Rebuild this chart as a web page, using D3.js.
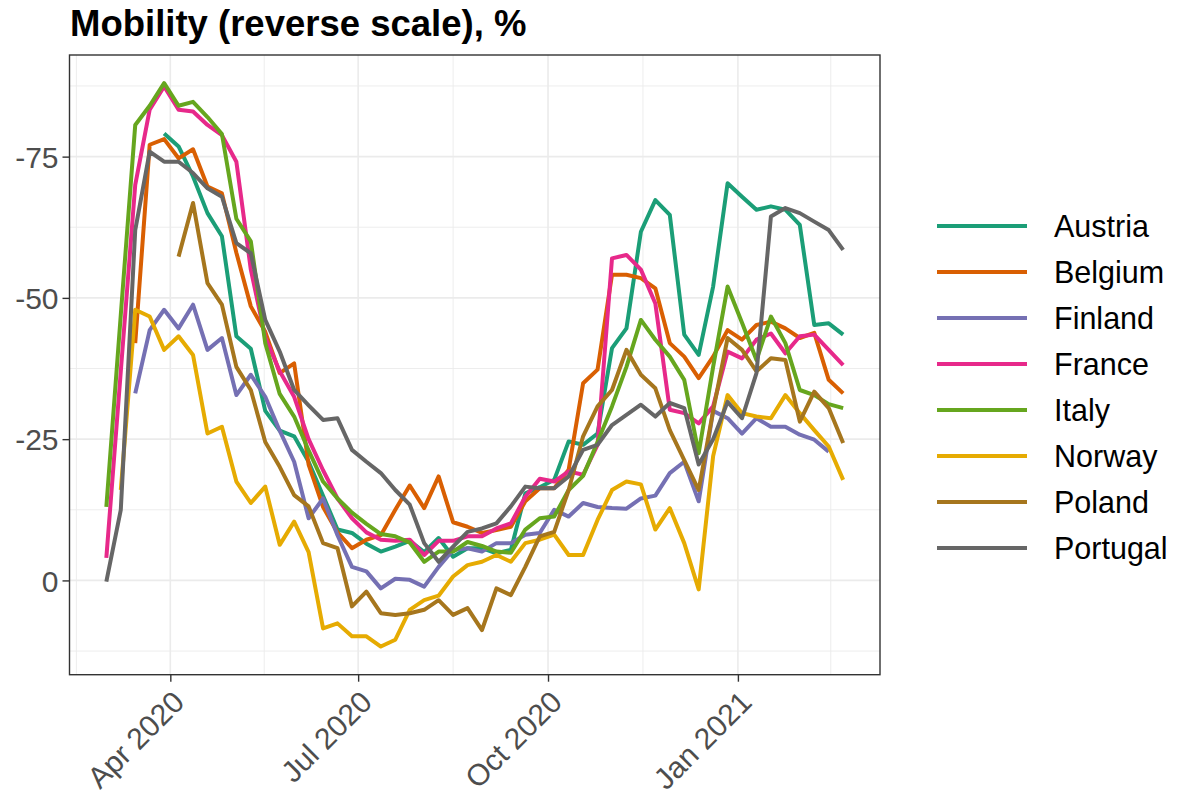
<!DOCTYPE html>
<html lang="en">
<head>
<meta charset="UTF-8">
<title>Mobility</title>
<style>
    body{
        margin:0;
        background:#fff;
        font-family:"Liberation Sans", Arial, Helvetica, sans-serif;
    }
    .grid-major{ stroke:#ebebeb; stroke-width:1.6; }
    .grid-minor{ stroke:#ebebeb; stroke-width:0.9; }
    .tick-label{ fill:#4d4d4d; font-size:30px; }
    .legend-label{ fill:#000; font-size:30.5px; }
    .title{ font-size:36.5px; font-weight:bold; fill:#000; }
</style>
<script src="https://d3js.org/d3.v7.min.js"></script>
</head>
<body>
<script>
    // weekly series, first week starting 1 Mar 2020 (52 weeks)
    var startDate = "2020-03-01";
    var countries = ["Austria","Belgium","Finland","France","Italy","Norway","Poland","Portugal"];
    var colors = ["#1B9E77","#D95F02","#7570B3","#E7298A","#66A61E","#E6AB02","#A6761D","#666666"];

    var austria = [null,null,null,null,-79.1,-76.8,-71.5,-65,-60.9,-43.2,-41,-30,-26.5,-25.5,-21,-15,-9,-8.4,-6.5,-5.1,
        -6,-7,-5,-7.5,-4.2,-5.7,-5.7,-4.8,-5.4,-15.4,-16.5,-17.8,-24.6,-24,-26,-41.1,-44.6,-61.7,-67.3,-64.7,
        -43.5,-39.9,-52,-70.3,-67.9,-65.6,-66.2,-65.6,-62.9,-45.2,-45.5,-43.5];
    var belgium = [null,null,-42,-77.1,-78.1,-74.7,-76.3,-69.7,-68.5,-58,-48.5,-44,-36.7,-38.4,-20.5,-13,-8.5,-5.7,-7.2,-8,
        -12.5,-16.8,-12.8,-18.4,-10.3,-9.5,-8.4,-8.9,-9.5,-14,-16.3,-16.3,-19.6,-34.9,-37.3,-54.1,-54.1,-53.5,-51.7,-42,
        -39.6,-35.8,-39.6,-44.3,-42.6,-45.2,-45.8,-44.6,-42.9,-43.8,-35.5,-33.1];
    var finland = [null,null,-33.1,-44.3,-47.9,-44.6,-48.8,-40.8,-42.9,-32.8,-36.4,-32.5,-26.5,-21,-11,-14.5,-8,-2.4,-1.6,1.4,
        -0.3,-0.1,1.1,-2.4,-5.4,-5.7,-5.1,-6.6,-6.6,-8.1,-8.4,-12.5,-11.3,-13.7,-13,-12.8,-12.7,-14.5,-15,-19,
        -21,-14,-30,-28.7,-26,-28.7,-27.2,-27.2,-25.8,-24.9,-22.8,null];
    var france = [-4,-37,-70,-83.3,-87.4,-83.3,-83,-80.6,-78.8,-74.1,-55,-43,-37,-32.5,-25,-19.5,-14.5,-11,-8.5,-7.2,
        -7,-7.2,-4.5,-7,-7,-7.8,-7.8,-9.2,-10.1,-14.8,-18,-17.5,-19.3,-18.7,-24,-57,-57.6,-55,-49,-30.2,
        -29.6,-27.8,-30.8,-40.5,-39.3,-42.6,-43.7,-40.2,-43.2,-43.5,-40.8,-38.1];
    var italy = [-13,-47,-80.6,-84,-88,-84,-84.7,-82,-79,-64,-60,-42,-33,-29,-23,-17.5,-14.5,-12,-10,-8.2,
        -7.8,-6.7,-3.3,-5.1,-5.1,-6.8,-6.1,-5.1,-4.9,-9,-11,-11.3,-16,-18.5,-24.5,-30.8,-37.8,-46.1,-42.6,-39.6,
        -35.5,-22.5,-37.8,-52,-45.6,-39,-46.7,-42,-33.7,-32.8,-31.2,-30.5];
    var norway = [null,-16,-47.9,-46.7,-40.8,-43.2,-39.9,-26,-27.2,-17.5,-13.7,-16.6,-6.3,-10.4,-5,8.5,7.6,9.9,9.9,11.7,
        10.5,5.2,3.5,2.7,-0.7,-2.7,-3.3,-4.5,-3.3,-6.6,-7.2,-8.1,-4.5,-4.5,-10.7,-16,-17.5,-17,-9,-12.8,
        -6.6,1.6,-22,-32.8,-29.6,-29,-28.7,-32.8,-29.6,-26.6,-23.7,-17.8];
    var poland = [null,null,null,null,null,-57.3,-66.8,-52.6,-48.8,-37.8,-33.7,-24.5,-20.1,-15.1,-13.1,-6.6,-5.7,4.6,2,5.8,
        6.1,5.8,5.2,3.5,6.1,4.9,8.8,1.4,2.6,-2.4,-7.8,-8.6,-16,-25.5,-30.8,-33.7,-40.8,-36.4,-34,-26.6,
        -21.3,-16,-30,-42.9,-40.8,-37,-39.3,-39,-28.1,-33.4,-30.5,-24.3];
    var portugal = [0.2,-12.5,-62,-75.9,-74.1,-74.1,-72.1,-69.4,-67.9,-59.7,-57.9,-46.1,-40.5,-33.7,-31,-28.4,-28.7,-23.1,-21,-19,
        -16,-13.4,-6.6,-3.3,-6,-8.6,-9.2,-10.1,-13.1,-16.6,-16.3,-16.3,-18.4,-23.1,-24,-27.5,-29.3,-31.1,-29,-31.4,
        -30.5,-20.5,-25,-31.6,-28.7,-36.7,-64.4,-65.9,-65,-63.5,-62,-58.5];

    var seriesValues = [austria,belgium,finland,france,italy,norway,poland,portugal];
    var yTicks = [-75,-50,-25,0];
    var yMinor = [-87.5,-62.5,-37.5,-12.5,12.5];
    var xTickDates = ["2020-04-01","2020-07-01","2020-10-01","2021-01-01"];
    var xTickLabels = ["Apr 2020","Jul 2020","Oct 2020","Jan 2021"];

    var W = 1178, H = 801;
    var panelL = 69.5, panelR = 880, panelT = 55, panelB = 674.7;

    var parse = d3.utcParse("%Y-%m-%d");
    var d0 = parse(startDate);
    var dates = d3.range(austria.length).map(function(i){ return d3.utcDay.offset(d0, 7*i); });

    // ggplot style 5% expansion
    var tExt = d3.extent(dates);
    var tPad = (tExt[1] - tExt[0]) * 0.05;
    var x = d3.scaleUtc()
        .domain([new Date(+tExt[0] - tPad), new Date(+tExt[1] + tPad)])
        .range([panelL, panelR]);

    var allVals = d3.merge(seriesValues).filter(function(v){ return v != null; });
    var vExt = d3.extent(allVals);
    var vPad = (vExt[1] - vExt[0]) * 0.05;
    // reverse scale: lowest value at top
    var y = d3.scaleLinear()
        .domain([vExt[0] - vPad, vExt[1] + vPad])
        .range([panelT, panelB]);

    var svg = d3.select("body").append("svg")
        .attr("width", W).attr("height", H);

    svg.append("text").attr("class","title")
        .attr("x", 70).attr("y", 36)
        .text("Mobility (reverse scale), %");

    // grid
    var xTicks = xTickDates.map(parse);
    var xMinor = [];
    var extended = [d3.utcMonth.offset(xTicks[0], -3)].concat(xTicks, [d3.utcMonth.offset(xTicks[xTicks.length-1], 3)]);
    for(var i=0; i<extended.length-1; i++){
        var mid = new Date((+extended[i] + +extended[i+1]) / 2);
        if(x(mid) > panelL && x(mid) < panelR) xMinor.push(mid);
    }

    var grid = svg.append("g");
    grid.selectAll(".ym").data(yMinor).enter().append("line")
        .attr("class","grid-minor")
        .attr("x1", panelL).attr("x2", panelR)
        .attr("y1", function(d){ return y(d); }).attr("y2", function(d){ return y(d); });
    grid.selectAll(".xm").data(xMinor).enter().append("line")
        .attr("class","grid-minor")
        .attr("y1", panelT).attr("y2", panelB)
        .attr("x1", function(d){ return x(d); }).attr("x2", function(d){ return x(d); });
    grid.selectAll(".yM").data(yTicks).enter().append("line")
        .attr("class","grid-major")
        .attr("x1", panelL).attr("x2", panelR)
        .attr("y1", function(d){ return y(d); }).attr("y2", function(d){ return y(d); });
    grid.selectAll(".xM").data(xTicks).enter().append("line")
        .attr("class","grid-major")
        .attr("y1", panelT).attr("y2", panelB)
        .attr("x1", function(d){ return x(d); }).attr("x2", function(d){ return x(d); });

    // lines
    var line = d3.line()
        .defined(function(d){ return d.v != null; })
        .x(function(d){ return x(d.t); })
        .y(function(d){ return y(d.v); });

    svg.append("g").selectAll("path")
        .data(seriesValues)
        .enter().append("path")
        .attr("fill","none")
        .attr("stroke", function(d,i){ return colors[i]; })
        .attr("stroke-width", 4)
        .attr("stroke-linejoin","round")
        .attr("d", function(vals){
            return line(vals.map(function(v,i){ return {t: dates[i], v: v}; }));
        });

    // panel border
    svg.append("rect")
        .attr("x", panelL).attr("y", panelT)
        .attr("width", panelR-panelL).attr("height", panelB-panelT)
        .attr("fill","none").attr("stroke","#333333").attr("stroke-width",1.4);

    // axes
    var yAxis = svg.append("g")
        .attr("transform","translate(" + panelL + ",0)")
        .call(d3.axisLeft(y).tickValues(yTicks).tickSize(7).tickPadding(4)
            .tickFormat(function(d){ return String(d); }));
    var xAxis = svg.append("g")
        .attr("transform","translate(0," + panelB + ")")
        .call(d3.axisBottom(x).tickValues(xTicks).tickSize(7)
            .tickFormat(function(d,i){ return xTickLabels[i]; }));
    [yAxis, xAxis].forEach(function(a){
        a.select(".domain").remove();
        a.selectAll(".tick line").attr("stroke","#333333").attr("stroke-width",1.4);
        a.selectAll(".tick text").attr("class","tick-label")
            .attr("font-family", null).attr("font-size", null).attr("fill", null);
    });
    yAxis.selectAll(".tick text").attr("dy","0.36em");
    xAxis.selectAll(".tick text")
        .attr("text-anchor","end")
        .attr("dy", null)
        .attr("y", 0)
        .attr("transform","translate(0,14) rotate(-45)")
        .attr("dominant-baseline","hanging");

    // legend
    var legend = svg.append("g").attr("transform","translate(937,226)");
    var item = legend.selectAll("g").data(countries).enter().append("g")
        .attr("transform", function(d,i){ return "translate(0," + (i*46) + ")"; });
    item.append("line")
        .attr("x1",0).attr("x2",90).attr("y1",0).attr("y2",0)
        .attr("stroke", function(d,i){ return colors[i]; })
        .attr("stroke-width",4);
    item.append("text").attr("class","legend-label")
        .attr("x",117).attr("y",0).attr("dy","0.36em")
        .text(function(d){ return d; });
</script>
</body>
</html>
